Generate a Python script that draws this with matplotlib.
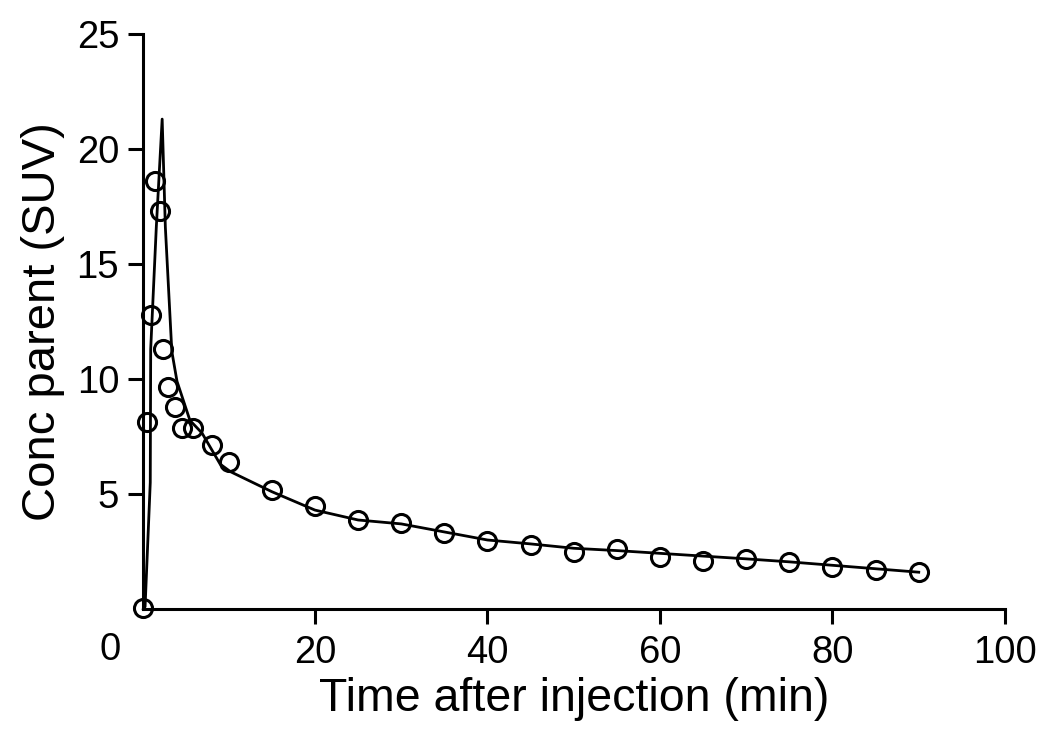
import matplotlib
matplotlib.use('Agg')
import matplotlib.pyplot as plt

# measured parent concentration (SUV)
time_pts = [0.1, 0.5, 1.0, 1.45, 2.0, 2.4, 3.0, 3.8, 4.55, 5.9, 8.0, 10.0,
            15, 20, 25, 30, 35, 40, 45, 50, 55, 60, 65, 70, 75, 80, 85, 90]
conc_pts = [0.05, 8.15, 12.8, 18.6, 17.3, 11.3, 9.65, 8.8, 7.85, 7.85, 7.15, 6.4,
            5.17, 4.5, 3.87, 3.73, 3.29, 2.97, 2.78, 2.49, 2.61, 2.27, 2.1, 2.17, 2.06, 1.84, 1.70, 1.6]

# fitted curve
fit_t = [0.1, 0.3, 0.9, 0.95, 1.6, 2.28, 2.65, 3.4, 4.0, 5.5, 6.9, 9.0, 10.2,
         15, 20, 25, 30, 35, 40, 45, 50, 55, 60, 65, 70, 75, 80, 85, 90]
fit_c = [0.0, 0.1, 5.5, 11.3, 16.6, 21.3, 16.6, 11.2, 9.9, 8.2, 7.65, 6.3, 5.97,
         5.1, 4.3, 3.87, 3.7, 3.35, 3.0, 2.83, 2.64, 2.54, 2.42, 2.3, 2.18, 2.05, 1.9, 1.75, 1.6]

plt.rcParams['font.family'] = ['Liberation Sans', 'DejaVu Sans']

fig = plt.figure(figsize=(10.5, 7.51), dpi=100)
ax = fig.add_axes([142.5/1050, 1-609/751, (1005-142.5)/1050, (609-34)/751])

ax.plot(fit_t, fit_c, color='black', lw=2.0, zorder=2, clip_on=False)
ax.plot(time_pts, conc_pts, 'o', ms=13, mfc='none', mec='black', mew=2.2,
        zorder=3, clip_on=False)

ax.set_xlim(0, 100)
ax.set_ylim(0, 25)
ax.set_xticks([20, 40, 60, 80, 100])
ax.set_yticks([5, 10, 15, 20, 25])
for s in ['top', 'right']:
    ax.spines[s].set_visible(False)
for s in ['left', 'bottom']:
    ax.spines[s].set_linewidth(2.2)
ax.tick_params(length=10.8, width=2.2, labelsize=27.5, direction='out')
ax.tick_params(axis='x', pad=8)
ax.tick_params(axis='y', pad=6)

# origin label, placed left of the axis corner
fig.text(110/1050, 1-650/751, '0', ha='center', va='center', fontsize=27.5)

ax.set_xlabel('Time after injection (min)', fontsize=33.5, labelpad=4)
ax.set_ylabel('Conc parent (SUV)', fontsize=34, labelpad=8)

plt.savefig('out.png', dpi=100)
